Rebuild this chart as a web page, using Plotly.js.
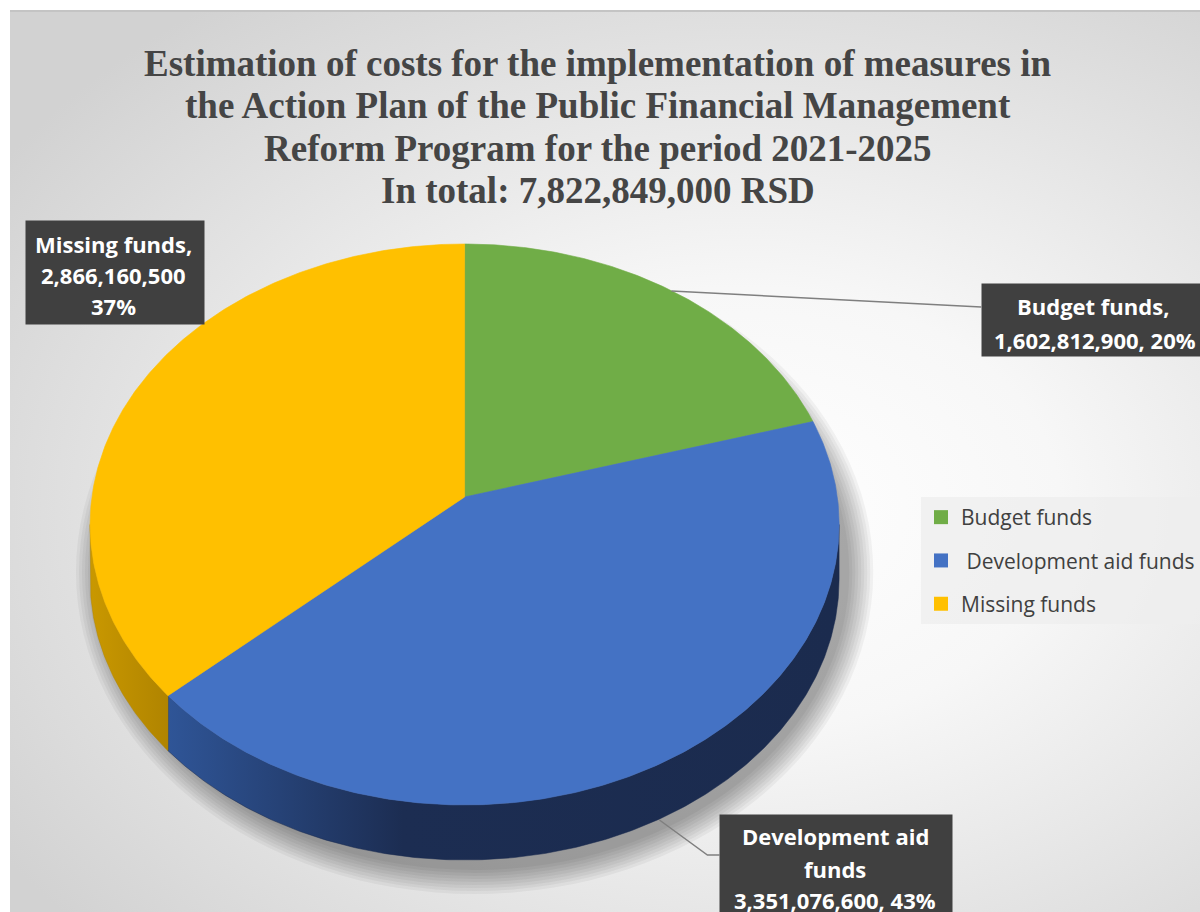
<!DOCTYPE html>
<html>
<head>
<meta charset="utf-8">
<script src="https://cdn.plot.ly/plotly-3.0.1.min.js"></script>
<style>
  html, body { margin:0; padding:0; background:#ffffff; }
  #bg { position:absolute; left:10px; top:10px; width:1190px; height:902px;
        border-top:2px solid #c4c4c4;
        background: radial-gradient(ellipse 75% 70% at 62% 55%, #ffffff 0%, #f7f7f7 35%, #e6e6e6 65%, #d2d2d2 100%); }
  #chart { position:absolute; left:0; top:0; width:1200px; height:912px; }
</style>
</head>
<body>
<div id="bg"></div>
<div id="chart"></div>
<script>
// ---- data ----
const categories = ['Budget funds', 'Development aid funds', 'Missing funds'];
const legendLabels = ['Budget funds', ' Development aid funds', 'Missing funds'];
const values = [1602812900, 3351076600, 2866160500];
const topColors = ['#70AD47', '#4472C4', '#FFC000'];
const wallScales = [
  [[0, '#4e7a2f'], [1, '#3a5c22']],
  [[0, '#2f5597'], [0.35, '#1c2d52'], [1, '#1b2b4e']],
  [[0, '#c99800'], [1, '#b08400']]
];
const titleLines = [
  'Estimation of costs for the implementation of measures in',
  'the Action Plan of the Public Financial Management',
  'Reform Program for the period 2021-2025',
  'In total: 7,822,849,000 RSD'
];

// ---- geometry of the 3D pie (pixel space) ----
const CX = 465, CY = 497;   // projected centre
const A = 373, K = 277.8, P = 0.098, DEPTH = 55;

function proj(thetaDeg) {
  const t = thetaDeg * Math.PI / 180;
  const u = Math.sin(t), w = Math.cos(t);
  const den = 1 + P * w;
  return [CX + A * u / den, CY - K * w / den];
}
function arc(t1, t2) {
  const pts = [];
  const n = Math.max(2, Math.ceil(Math.abs(t2 - t1) / 0.5));
  for (let i = 0; i <= n; i++) pts.push(proj(t1 + (t2 - t1) * i / n));
  return pts;
}

const total = values.reduce((s, v) => s + v, 0);
const bounds = [];
let acc = 0;
values.forEach(v => { const s = acc / total * 360; acc += v; bounds.push([s, acc / total * 360]); });

const wallMin = Math.acos(-P) * 180 / Math.PI;  // x-extremes of the silhouette
const wallMax = 360 - wallMin;

const traces = [];
// walls
bounds.forEach(([s, e], i) => {
  const a = Math.max(s, wallMin), b = Math.min(e, wallMax);
  if (b <= a) return;
  const top = arc(a, b);
  const bot = top.slice().reverse().map(p => [p[0], p[1] + DEPTH]);
  const pts = top.concat(bot);
  pts.push(top[0]);
  traces.push({
    type: 'scatter', mode: 'lines', x: pts.map(p => p[0]), y: pts.map(p => p[1]),
    fill: 'toself', line: { width: 0.5, color: wallScales[i][wallScales[i].length - 1][1] },
    fillgradient: { type: 'horizontal', colorscale: wallScales[i] },
    hoverinfo: 'skip', showlegend: false
  });
});
// top faces
bounds.forEach(([s, e], i) => {
  const pts = [[CX, CY]].concat(arc(s, e));
  pts.push([CX, CY]);
  traces.push({
    type: 'scatter', mode: 'lines', x: pts.map(p => p[0]), y: pts.map(p => p[1]),
    fill: 'toself', fillcolor: topColors[i], line: { width: 0.6, color: topColors[i] },
    name: categories[i], text: categories[i], hoveron: 'fills', hoverinfo: 'text',
    showlegend: false
  });
});
// legend entries
categories.forEach((c, i) => {
  traces.push({
    type: 'scatter', mode: 'markers', x: [null], y: [null], name: legendLabels[i],
    legendgroup: 'g' + i,
    marker: { symbol: 'square', size: 14, color: topColors[i] }, showlegend: true
  });
});

// ---- labels ----
function fmt(v) { return v.toLocaleString('en-US'); }
function pct(v) { return Math.round(v / total * 100) + '%'; }
const labelFont = { family: 'Open Sans, sans-serif', size: 22, color: '#ffffff' };
const annotations = [];
// title lines
const titleY = [63, 105, 148, 190];
titleLines.forEach((t, i) => {
  annotations.push({ x: 598, y: titleY[i], xref: 'x', yref: 'y', xanchor: 'center', yanchor: 'middle',
    text: '<b>' + t + '</b>', showarrow: false,
    font: { family: 'Liberation Serif, Times New Roman, serif', size: 37, color: '#454545' } });
});
function box(x0, y0, w, h) {
  annotations.push({ x: x0, y: y0, xref: 'x', yref: 'y', xanchor: 'left', yanchor: 'top',
    text: ' ', showarrow: false, width: w, height: h, bgcolor: '#404040', borderpad: 0 });
}
function line(txt, x, y) {
  annotations.push({ x: x, y: y, xref: 'x', yref: 'y', xanchor: 'center', yanchor: 'middle',
    text: '<b>' + txt + '</b>', showarrow: false, font: labelFont });
}
// Missing funds
box(25, 220, 178, 103);
line(categories[2] + ',', 114, 244);
line(fmt(values[2]), 114, 275);
line(pct(values[2]), 114, 306);
// Budget funds
box(982, 283, 240, 72);
line(categories[0] + ',', 1094, 306);
line(fmt(values[0]) + ', ' + pct(values[0]), 1096, 340);
// Development aid funds
box(720, 814, 232, 120);
line('Development aid', 836, 836);
line('funds', 836, 869);
line(fmt(values[1]) + ', ' + pct(values[1]), 836, 900);

const shapes = [];
// soft shadow
for (let e = 24; e >= 0; e -= 3) {
  shapes.push({ type: 'circle', xref: 'x', yref: 'y', layer: 'below',
    x0: 92 - e + 8, x1: 838 + e + 12, y0: 250 - e + 24, y1: 860 + e + 10,
    fillcolor: 'rgba(0,0,0,0.045)', line: { width: 0 } });
}
// leader lines
shapes.push({ type: 'path', xref: 'x', yref: 'y', path: 'M672,291 L982,307',
  line: { color: '#7f7f7f', width: 1.5 } });
shapes.push({ type: 'path', xref: 'x', yref: 'y', path: 'M660,820 L708,855 L720,855',
  line: { color: '#7f7f7f', width: 1.5 } });

const layout = {
  width: 1200, height: 912,
  margin: { l: 0, r: 0, t: 0, b: 0 },
  paper_bgcolor: 'rgba(0,0,0,0)', plot_bgcolor: 'rgba(0,0,0,0)',
  xaxis: { range: [0, 1200], visible: false, fixedrange: true },
  yaxis: { range: [912, 0], visible: false, fixedrange: true },
  showlegend: true,
  legend: { x: 922 / 1200, y: 1 - 497 / 912, xanchor: 'left', yanchor: 'top',
    bgcolor: 'rgba(238,238,238,0.75)', borderwidth: 0, tracegroupgap: 13,
    font: { family: 'Open Sans, sans-serif', size: 21, color: '#404040' },
    itemclick: false, itemdoubleclick: false },
  annotations: annotations,
  shapes: shapes,
  hovermode: 'closest'
};

Plotly.newPlot('chart', traces, layout, { displayModeBar: false });
</script>
</body>
</html>
